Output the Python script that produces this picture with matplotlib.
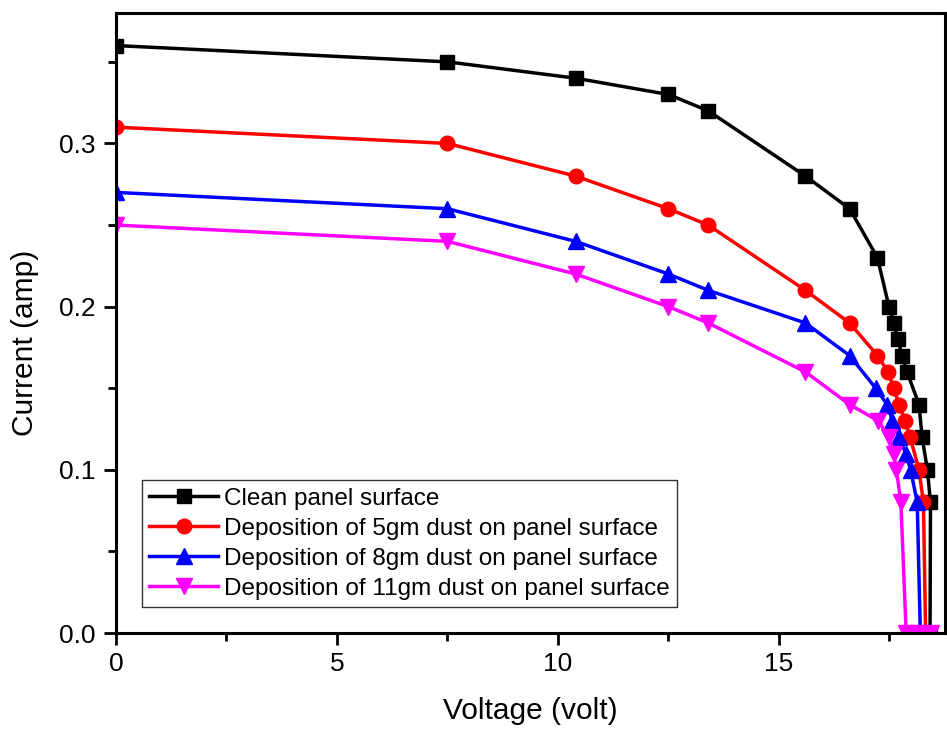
import matplotlib
matplotlib.use("Agg")
import matplotlib.pyplot as plt
from matplotlib.ticker import MultipleLocator

plt.rcParams['font.family'] = ['Liberation Sans', 'DejaVu Sans']

v_clean = [0, 7.5, 10.4, 12.5, 13.4, 15.6, 16.6, 17.23, 17.49, 17.6, 17.69, 17.79, 17.9, 18.17, 18.24, 18.36, 18.43, 18.42]
i_clean = [0.36, 0.35, 0.34, 0.33, 0.32, 0.28, 0.26, 0.23, 0.20, 0.19, 0.18, 0.17, 0.16, 0.14, 0.12, 0.10, 0.08, 0.0]

v_5gm = [0, 7.5, 10.4, 12.5, 13.4, 15.6, 16.6, 17.23, 17.47, 17.6, 17.72, 17.85, 17.97, 18.17, 18.27, 18.32]
i_5gm = [0.31, 0.30, 0.28, 0.26, 0.25, 0.21, 0.19, 0.17, 0.16, 0.15, 0.14, 0.13, 0.12, 0.10, 0.08, 0.0]

v_8gm = [0, 7.5, 10.4, 12.5, 13.4, 15.6, 16.6, 17.19, 17.45, 17.57, 17.72, 17.87, 17.98, 18.13, 18.2]
i_8gm = [0.27, 0.26, 0.24, 0.22, 0.21, 0.19, 0.17, 0.15, 0.14, 0.13, 0.12, 0.11, 0.10, 0.08, 0.0]

v_11gm = [0, 7.5, 10.4, 12.5, 13.4, 15.6, 16.6, 17.25, 17.49, 17.6, 17.66, 17.76, 17.88, 18.15, 18.45]
i_11gm = [0.25, 0.24, 0.22, 0.20, 0.19, 0.16, 0.14, 0.13, 0.12, 0.11, 0.10, 0.08, 0.0, 0.0, 0.0]

labels = ["Clean panel surface",
          "Deposition of 5gm dust on panel surface",
          "Deposition of 8gm dust on panel surface",
          "Deposition of 11gm dust on panel surface"]

fig = plt.figure(figsize=(9.47, 7.33), dpi=100)
ax = fig.add_axes([0.1225, 0.1364, 0.875, 0.846])

series = [(v_clean, i_clean, 'black', 's', 10),
          (v_5gm, i_5gm, 'red', 'o', 10.5),
          (v_8gm, i_8gm, 'blue', '^', 11),
          (v_11gm, i_11gm, 'magenta', 'v', 11)]
for (v, i, c, m, ms), lab in zip(series, labels):
    ax.plot(v, i, color=c, marker=m, markersize=ms, linewidth=2.5, label=lab)

ax.set_xlim(0, 18.75)
ax.set_ylim(0, 0.38)
ax.xaxis.set_major_locator(MultipleLocator(5))
ax.xaxis.set_minor_locator(MultipleLocator(2.5))
ax.yaxis.set_major_locator(MultipleLocator(0.1))
ax.yaxis.set_minor_locator(MultipleLocator(0.05))
ax.tick_params(which='major', direction='out', length=8.5, width=2, labelsize=19)
ax.tick_params(axis='x', which='major', pad=5)
ax.tick_params(axis='y', which='major', pad=6)
ax.tick_params(which='minor', direction='out', length=5.5, width=2)
ax.tick_params(top=False, right=False)
for s in ax.spines.values():
    s.set_linewidth(2.2)
    s.set_zorder(5)

ax.set_xlabel("Voltage (volt)", fontsize=21.5)
ax.set_ylabel("Current (amp)", fontsize=21.5)
ax.xaxis.set_label_coords(0.5, -0.103)
ax.yaxis.set_label_coords(-0.093, 0.468)

leg = ax.legend(loc='lower left', bbox_to_anchor=(0.031, 0.042), fontsize=17.5, frameon=True,
                fancybox=False, edgecolor='black', handlelength=2.85, borderpad=0.3,
                labelspacing=0.33, handletextpad=0.25, borderaxespad=0)
leg.get_frame().set_linewidth(1)

fig.savefig("out.png", dpi=100)
